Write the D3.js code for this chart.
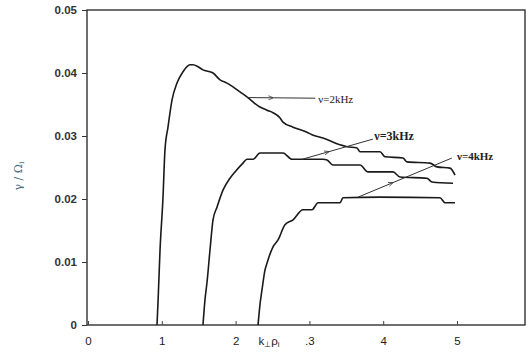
<!DOCTYPE html>
<html>
<head>
<meta charset="utf-8">
<script src="https://cdn.jsdelivr.net/npm/d3@7"></script>
<style>
    body { margin: 0; background: #fff; }
    svg { display: block; }
</style>
</head>
<body>
<div id="chart"></div>
<script>
// Growth rate vs k_perp rho_i
const k2 = [0.935, 0.95, 0.976, 1.016, 1.043, 1.084, 1.138, 1.206, 1.287, 1.382, 1.423, 1.49, 1.558, 1.653, 1.694,
    1.789, 1.883, 1.965, 2.06, 2.154, 2.236, 2.33, 2.425, 2.507, 2.6, 2.642, 2.778, 2.967, 3.035, 3.184, 3.415,
    3.51, 3.645, 3.686, 3.957, 4.024, 4.268, 4.322, 4.634, 4.729, 4.905, 4.973];
const g2 = [0, 0.004, 0.0119, 0.0202, 0.0278, 0.0314, 0.0357, 0.0384, 0.0402, 0.0413, 0.0413, 0.041, 0.0405, 0.0402, 0.04,
    0.0389, 0.0384, 0.0378, 0.037, 0.0362, 0.0354, 0.0346, 0.0341, 0.0337, 0.0329, 0.0322, 0.0314, 0.0306, 0.0302, 0.0297, 0.0286,
    0.0283, 0.0281, 0.0275, 0.0275, 0.0267, 0.0265, 0.0259, 0.0257, 0.0251, 0.0249, 0.0238];

const k3 = [1.558, 1.585, 1.612, 1.653, 1.694, 1.748, 1.829, 1.924, 1.992, 2.1, 2.154, 2.236, 2.33, 2.642, 2.764,
    3.184, 3.238, 3.32, 3.686, 3.794, 4.133, 4.228, 4.593, 4.661, 4.946];
const g3 = [0, 0.004, 0.0067, 0.0119, 0.0167, 0.0187, 0.0214, 0.0233, 0.0243, 0.0257, 0.0263, 0.0263, 0.0273, 0.0273, 0.0263,
    0.0263, 0.0262, 0.0254, 0.0254, 0.0243, 0.0243, 0.0235, 0.0233, 0.0227, 0.0225];

const k4 = [2.304, 2.33, 2.358, 2.398, 2.425, 2.507, 2.575, 2.669, 2.778, 2.913, 3.035, 3.117, 3.415, 3.455, 3.957,
    4.77, 4.837, 4.973];
const g4 = [0, 0.0032, 0.0056, 0.0087, 0.0098, 0.0124, 0.0135, 0.0159, 0.0167, 0.0183, 0.0183, 0.0194, 0.0194, 0.0202, 0.0203,
    0.0202, 0.0194, 0.0194];

const xTicks = [0, 1, 2, 3, 4, 5];
const xTickLabels = ['0', '1', '2', '.3', '4', '5'];
const yTicks = [0, 0.01, 0.02, 0.03, 0.04, 0.05];
const yTickLabels = ['0', '0.01', '0.02', '0.03', '0.04', '0.05'];

// label text, arrow start [k, gamma] on the curve, arrow end [k, gamma], label anchor [k, gamma]
const labels = [
    { text: 'ν=2kHz', from: [2.155, 0.0361], to: [3.08, 0.0360], at: [3.12, 0.0358], bold: false, size: 11 },
    { text: 'ν=3kHz', from: [2.90, 0.0263], to: [3.86, 0.0295], at: [3.88, 0.0300], bold: true, size: 12 },
    { text: 'ν=4kHz', from: [3.66, 0.0203], to: [4.93, 0.0265], at: [5.0, 0.0268], bold: true, size: 11 }
];

const width = 528, height = 354;
const x = d3.scaleLinear().domain([0, 6]).range([88, 88 + 6 * 73.8]);
const y = d3.scaleLinear().domain([0, 0.05]).range([325, 10]);
const frameRight = 525;

const svg = d3.select('#chart').append('svg')
    .attr('width', width)
    .attr('height', height);

svg.append('defs').append('marker')
    .attr('id', 'head')
    .attr('viewBox', '0 0 10 10')
    .attr('refX', 5).attr('refY', 5)
    .attr('markerWidth', 5).attr('markerHeight', 5)
    .attr('orient', 'auto')
    .append('path')
    .attr('d', 'M10,1 L0,5 L10,9')
    .attr('fill', 'none')
    .attr('stroke', '#333')
    .attr('stroke-width', 1.5);

// Frame
svg.append('rect')
    .attr('x', x(0) - 1)
    .attr('y', y(0.05))
    .attr('width', frameRight - x(0) + 1)
    .attr('height', y(0) - y(0.05))
    .attr('fill', 'none')
    .attr('stroke', '#222')
    .attr('stroke-width', 1.3);

// Y axis
const yAxis = svg.append('g')
    .attr('transform', `translate(${x(0) - 1},0)`)
    .call(d3.axisLeft(y).tickValues(yTicks).tickSize(5).tickFormat((d, i) => yTickLabels[i]));
yAxis.select('.domain').remove();
yAxis.selectAll('line').attr('stroke', '#333');
yAxis.selectAll('text')
    .attr('x', -10)
    .attr('fill', '#333')
    .style('font-family', 'Liberation Sans, Arial, sans-serif')
    .style('font-size', '11.5px')
    .style('font-weight', 'bold');

// X axis
const xAxis = svg.append('g')
    .attr('transform', `translate(0,${y(0)})`)
    .call(d3.axisBottom(x).tickValues(xTicks).tickSize(-4).tickFormat((d, i) => xTickLabels[i]));
xAxis.select('.domain').remove();
xAxis.selectAll('line').attr('stroke', '#444');
xAxis.selectAll('text')
    .attr('y', 12)
    .attr('fill', '#222')
    .style('font-family', 'Liberation Sans, Arial, sans-serif')
    .style('font-size', '11.5px');

// Axis titles
svg.append('text')
    .attr('x', x(2.31))
    .attr('y', 345)
    .attr('fill', '#222')
    .style('font-family', 'Liberation Sans, Arial, sans-serif')
    .style('font-size', '11.5px')
    .html('k<tspan font-size="8" dy="2">⊥</tspan><tspan dy="-2">ρ</tspan><tspan font-size="8" dy="2">i</tspan>');

svg.append('text')
    .attr('transform', 'translate(22,176) rotate(-90)')
    .attr('text-anchor', 'middle')
    .attr('fill', '#4a6a80')
    .style('font-family', 'DejaVu Serif, serif')
    .style('font-size', '11px')
    .html('γ / Ω<tspan font-size="8" dy="2">i</tspan>');

// Curves
const line = d3.line().curve(d3.curveMonotoneX).x(d => x(d[0])).y(d => y(d[1]));
[[k2, g2], [k3, g3], [k4, g4]].forEach(([ks, gs]) => {
    svg.append('path')
        .datum(ks.map((k, i) => [k, gs[i]]))
        .attr('d', line)
        .attr('fill', 'none')
        .attr('stroke', '#1a1a1a')
        .attr('stroke-width', 1.6)
        .attr('stroke-linejoin', 'round');
});

// Labels with pointer lines
labels.forEach(l => {
    const x0 = x(l.from[0]), y0 = y(l.from[1]), x1 = x(l.to[0]), y1 = y(l.to[1]);
    svg.append('line')
        .attr('x1', x1).attr('y1', y1)
        .attr('x2', x0 + (x1 - x0) * 0.35).attr('y2', y0 + (y1 - y0) * 0.35)
        .attr('stroke', '#333')
        .attr('stroke-width', 1)
        .attr('marker-end', 'url(#head)');
    svg.append('line')
        .attr('x1', x0 + (x1 - x0) * 0.35).attr('y1', y0 + (y1 - y0) * 0.35)
        .attr('x2', x0).attr('y2', y0)
        .attr('stroke', '#333')
        .attr('stroke-width', 1);
    svg.append('text')
        .attr('x', x(l.at[0]))
        .attr('y', y(l.at[1]) + 4)
        .attr('fill', '#222')
        .style('font-family', 'Liberation Serif, Times New Roman, serif')
        .style('font-size', l.size + 'px')
        .style('font-weight', l.bold ? 'bold' : 'normal')
        .text(l.text);
});
</script>
</body>
</html>
